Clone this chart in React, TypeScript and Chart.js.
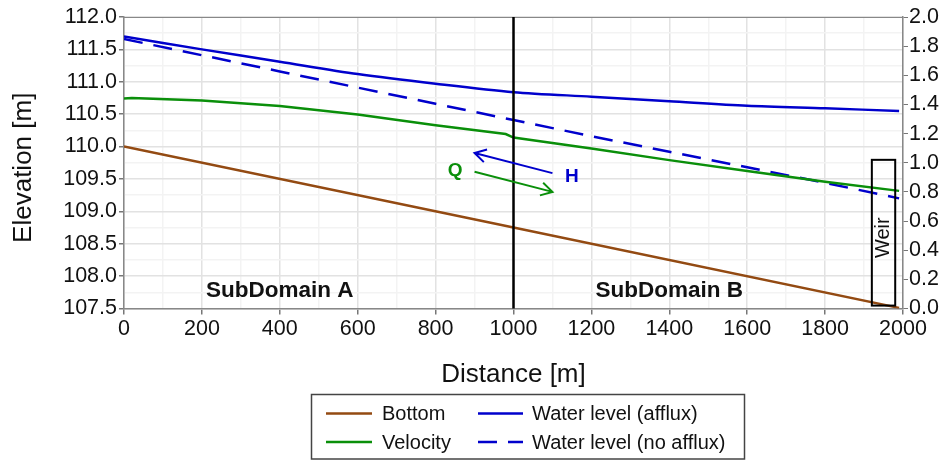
import React, { useEffect, useRef } from "react";
import { Chart, registerables } from "chart.js";
Chart.register(...registerables);

// ---- data ----
const bottomX = [0, 1000, 1990];
const bottomElev = [110.0, 108.75, 107.51];
const waterX = [0, 200, 400, 600, 800, 1000, 1200, 1400, 1600, 1800, 1990];
const waterAfflux = [111.7, 111.5, 111.31, 111.12, 110.97, 110.84, 110.77, 110.7, 110.63, 110.59, 110.55];
const waterNoAfflux = [111.66, 111.41, 111.16, 110.91, 110.66, 110.41, 110.16, 109.92, 109.68, 109.44, 109.2];
const velocityX = [0, 20, 200, 400, 600, 800, 980, 1000, 1200, 1400, 1600, 1800, 1990];
const velocity = [1.441, 1.445, 1.427, 1.39, 1.331, 1.258, 1.197, 1.173, 1.098, 1.018, 0.944, 0.869, 0.807];

const seriesLabels = ["Bottom", "Velocity", "Water level (afflux)", "Water level (no afflux)"];

// annotations (data coordinates)
const domainSplit = 1000;
const weirXRange = [1920, 1980];
const weirVRange = [0.02, 1.02];
const arrowH = [[1100, 109.59], [900, 109.9]];
const arrowQ = [[900, 109.61], [1100, 109.3]];
const labelQ = [850, 109.62];
const labelH = [1150, 109.53];
const subDomainA = [400, 107.77];
const subDomainB = [1400, 107.77];

const BROWN = "#934a12";
const GREEN = "#0a8f0a";
const BLUE = "#0000cc";
const TEXT = "#111";
const FONT = "'Liberation Sans', Arial, sans-serif";

const pts = (xs: number[], ys: number[]) => xs.map((x, i) => ({ x, y: ys[i] }));
const isMult = (v: number, m: number) => Math.abs(v / m - Math.round(v / m)) < 1e-6;

const annotationPlugin = {
  id: "annotations",
  afterDatasetsDraw(chart: any) {
    const { ctx, chartArea, scales } = chart;
    const xs = scales.x, ys = scales.y, vs = scales.y1;
    ctx.save();
    // top border
    ctx.strokeStyle = "#888";
    ctx.lineWidth = 1;
    ctx.beginPath();
    ctx.moveTo(chartArea.left, chartArea.top + 0.5);
    ctx.lineTo(chartArea.right, chartArea.top + 0.5);
    ctx.stroke();

    // domain split
    const sx = xs.getPixelForValue(domainSplit);
    ctx.strokeStyle = "#000";
    ctx.lineWidth = 2.5;
    ctx.beginPath();
    ctx.moveTo(sx, chartArea.top);
    ctx.lineTo(sx, chartArea.bottom);
    ctx.stroke();

    // weir
    const wx0 = xs.getPixelForValue(weirXRange[0]);
    const wx1 = xs.getPixelForValue(weirXRange[1]);
    const wy0 = vs.getPixelForValue(weirVRange[0]);
    const wy1 = vs.getPixelForValue(weirVRange[1]);
    ctx.lineWidth = 2;
    ctx.strokeStyle = "#000";
    ctx.strokeRect(wx0, wy1, wx1 - wx0, wy0 - wy1);
    ctx.save();
    ctx.translate((wx0 + wx1) / 2, (wy0 + wy1) / 2 + 5);
    ctx.rotate(-Math.PI / 2);
    ctx.fillStyle = TEXT;
    ctx.font = `20px ${FONT}`;
    ctx.textAlign = "center";
    ctx.textBaseline = "middle";
    ctx.fillText("Weir", 0, 0);
    ctx.restore();

    // arrows
    const drawArrow = (a: number[][], color: string) => {
      const x0 = xs.getPixelForValue(a[0][0]), y0 = ys.getPixelForValue(a[0][1]);
      const x1 = xs.getPixelForValue(a[1][0]), y1 = ys.getPixelForValue(a[1][1]);
      ctx.strokeStyle = color;
      ctx.lineWidth = 2;
      ctx.beginPath();
      ctx.moveTo(x0, y0);
      ctx.lineTo(x1, y1);
      const ang = Math.atan2(y1 - y0, x1 - x0);
      const L = 13, s = Math.PI / 6;
      ctx.moveTo(x1 - L * Math.cos(ang - s), y1 - L * Math.sin(ang - s));
      ctx.lineTo(x1, y1);
      ctx.lineTo(x1 - L * Math.cos(ang + s), y1 - L * Math.sin(ang + s));
      ctx.stroke();
    };
    drawArrow(arrowH, BLUE);
    drawArrow(arrowQ, GREEN);

    ctx.textAlign = "center";
    ctx.textBaseline = "middle";
    ctx.font = `bold 19px ${FONT}`;
    ctx.fillStyle = GREEN;
    ctx.fillText("Q", xs.getPixelForValue(labelQ[0]), ys.getPixelForValue(labelQ[1]));
    ctx.fillStyle = BLUE;
    ctx.fillText("H", xs.getPixelForValue(labelH[0]), ys.getPixelForValue(labelH[1]));

    ctx.font = `bold 22.5px ${FONT}`;
    ctx.fillStyle = TEXT;
    ctx.fillText("SubDomain A", xs.getPixelForValue(subDomainA[0]), ys.getPixelForValue(subDomainA[1]));
    ctx.fillText("SubDomain B", xs.getPixelForValue(subDomainB[0]), ys.getPixelForValue(subDomainB[1]));
    ctx.restore();
  },
  afterDraw(chart: any) {
    const { ctx, chartArea } = chart;
    ctx.save();
    // left axis title
    ctx.save();
    ctx.translate(24, (chartArea.top + chartArea.bottom) / 2 + 5);
    ctx.rotate(-Math.PI / 2);
    ctx.font = `26px ${FONT}`;
    ctx.fillStyle = TEXT;
    ctx.textAlign = "center";
    ctx.textBaseline = "middle";
    ctx.fillText("Elevation [m]", 0, 0);
    ctx.restore();

    // legend box
    ctx.strokeStyle = "#444";
    ctx.lineWidth = 1.5;
    ctx.strokeRect(311.5, 394.5, 433, 64.5);
    const items = [
      { label: seriesLabels[0], color: BROWN, dash: [] as number[], col: 0, row: 0 },
      { label: seriesLabels[1], color: GREEN, dash: [] as number[], col: 0, row: 1 },
      { label: seriesLabels[2], color: BLUE, dash: [] as number[], col: 1, row: 0 },
      { label: seriesLabels[3], color: BLUE, dash: [19, 11], col: 1, row: 1 },
    ];
    const colLine = [[326, 372], [478, 523]];
    const colText = [382, 532];
    const rowY = [413.5, 442];
    ctx.font = `20px ${FONT}`;
    ctx.textBaseline = "middle";
    ctx.textAlign = "left";
    items.forEach((it) => {
      const y = rowY[it.row];
      ctx.strokeStyle = it.color;
      ctx.lineWidth = 2.5;
      ctx.setLineDash(it.dash);
      ctx.beginPath();
      ctx.moveTo(colLine[it.col][0], y);
      ctx.lineTo(colLine[it.col][1], y);
      ctx.stroke();
      ctx.setLineDash([]);
      ctx.fillStyle = TEXT;
      ctx.fillText(it.label, colText[it.col], y + 1);
    });
    ctx.restore();
  },
};

export default function App() {
  const ref = useRef<HTMLCanvasElement | null>(null);
  useEffect(() => {
    if (!ref.current) return;
    Chart.defaults.font.family = FONT;
    Chart.defaults.color = TEXT;
    const chart = new Chart(ref.current, {
      type: "line",
      data: {
        datasets: [
          {
            label: seriesLabels[0],
            data: pts(bottomX, bottomElev),
            borderColor: BROWN,
            borderWidth: 2.5,
            pointRadius: 0,
            tension: 0,
            yAxisID: "y",
          },
          {
            label: seriesLabels[1],
            data: pts(velocityX, velocity),
            borderColor: GREEN,
            borderWidth: 2.5,
            pointRadius: 0,
            tension: 0,
            yAxisID: "y1",
          },
          {
            label: seriesLabels[2],
            data: pts(waterX, waterAfflux),
            borderColor: BLUE,
            borderWidth: 2.5,
            pointRadius: 0,
            tension: 0.3,
            yAxisID: "y",
          },
          {
            label: seriesLabels[3],
            data: pts(waterX, waterNoAfflux),
            borderColor: BLUE,
            borderWidth: 2.5,
            borderDash: [19, 11],
            pointRadius: 0,
            tension: 0,
            yAxisID: "y",
          },
        ],
      },
      options: {
        animation: false,
        responsive: false,
        maintainAspectRatio: false,
        layout: { padding: { left: 0, right: 0, top: 17, bottom: 66 } },
        plugins: { legend: { display: false }, tooltip: { enabled: false } },
        scales: {
          x: {
            type: "linear",
            min: 0,
            max: 2000,
            afterFit: (s: any) => { s.height = 86.5; },
            ticks: {
              stepSize: 100,
              autoSkip: false,
              maxRotation: 0,
              padding: 2,
              font: { size: 21.5 },
              color: TEXT,
              callback: (v: any) => (isMult(Number(v), 200) ? String(v) : ""),
            },
            grid: {
              color: (c: any) => (isMult(c.tick.value, 200) ? "#e2e2e2" : "#f3f3f3"),
              tickColor: (c: any) => (isMult(c.tick.value, 200) ? "#777" : "rgba(0,0,0,0)"),
              tickLength: 6,
              lineWidth: 1.5,
            },
            border: { color: "#888", width: 1.5 },
            title: {
              display: true,
              text: "Distance [m]",
              font: { size: 26 },
              color: TEXT,
              padding: { top: 0, bottom: 5 },
            },
          },
          y: {
            position: "left",
            min: 107.5,
            max: 112,
            afterFit: (s: any) => { s.width = 124; },
            ticks: {
              stepSize: 0.25,
              autoSkip: false,
              padding: 2,
              font: { size: 21.5 },
              color: TEXT,
              callback: (v: any) => (isMult(Number(v), 0.5) ? Number(v).toFixed(1) : ""),
            },
            grid: {
              color: (c: any) => (isMult(c.tick.value, 0.5) ? "#e2e2e2" : "#f3f3f3"),
              tickColor: (c: any) => (isMult(c.tick.value, 0.5) ? "#777" : "rgba(0,0,0,0)"),
              tickLength: 5,
              lineWidth: 1.5,
            },
            border: { color: "#888", width: 1.5 },
            title: { display: false, text: "Elevation [m]" },
          },
          y1: {
            position: "right",
            min: 0,
            max: 2,
            afterFit: (s: any) => { s.width = 40; },
            ticks: {
              stepSize: 0.2,
              autoSkip: false,
              padding: 1,
              font: { size: 21.5 },
              color: TEXT,
              callback: (v: any) => Number(v).toFixed(1),
            },
            grid: { drawOnChartArea: false, tickColor: "#777", tickLength: 5 },
            border: { color: "#888", width: 1.5 },
          },
        },
      },
      plugins: [annotationPlugin],
    } as any);
    return () => chart.destroy();
  }, []);
  return (
    <div style={{ position: "fixed", left: 0, top: 0, width: 943, height: 461, background: "#fff" }}>
      <canvas ref={ref} width={943} height={461} style={{ width: 943, height: 461 }} />
    </div>
  );
}
